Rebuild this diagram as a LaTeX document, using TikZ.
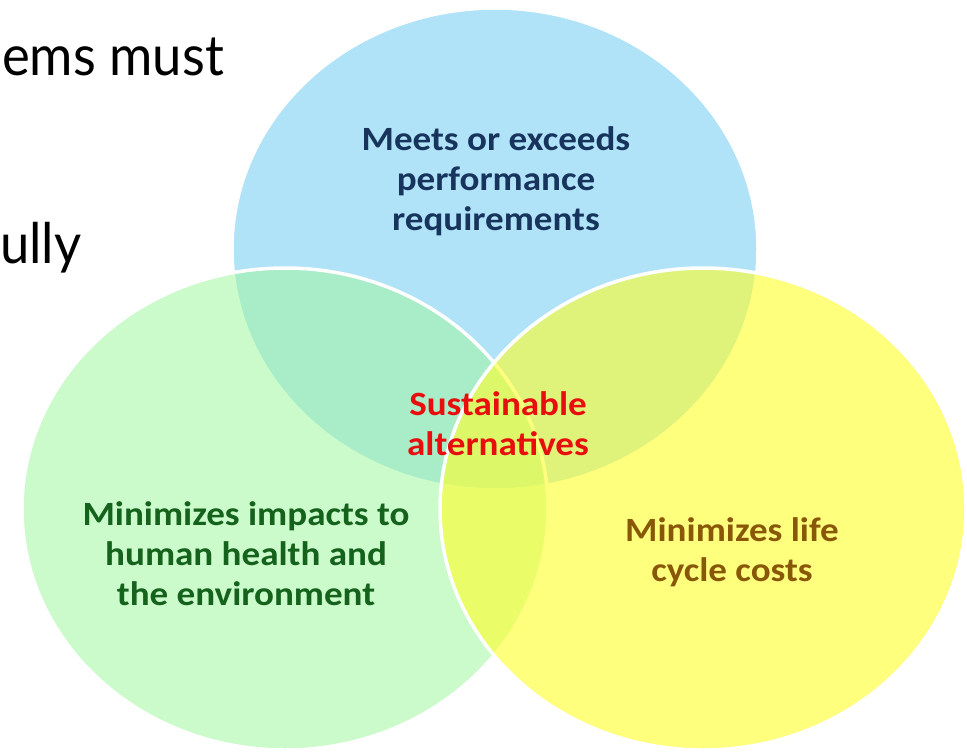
\documentclass[tikz,border=0pt]{standalone}
\usepackage{fontspec}
\setmainfont{Carlito}[FakeStretch=1.09]
\newfontfamily\slidefont{Lato}[FakeStretch=0.94]
\usetikzlibrary{shapes.geometric}

\definecolor{perfblue}{RGB}{176,226,248}
\definecolor{healthgreen}{RGB}{162,247,162}
\definecolor{costyellow}{RGB}{255,255,40}
\definecolor{perftext}{RGB}{22,52,92}
\definecolor{coretext}{RGB}{232,14,14}
\definecolor{healthtext}{RGB}{20,98,28}
\definecolor{costtext}{RGB}{136,88,8}

\begin{document}
\begin{tikzpicture}[x=1pt,y=-1pt]
  \tikzset{
    venn/.style={ellipse,draw=white,line width=3.5pt,inner sep=0pt,minimum width=526pt,minimum height=482pt},
    caption/.style={font=\fontsize{34}{40}\selectfont\bfseries,align=center},
    slidetext/.style={font=\slidefont\fontsize{56}{64}\selectfont,anchor=base west,inner sep=0pt}
  }
  \useasboundingbox[fill=white] (0,0) rectangle (967,755);

  % leftover lines of the slide text
  \node[slidetext] (line1) at (2,75) {ems must};
  \node[slidetext] (line2) at (0,263) {ully};

  % the three sets
  \node[venn,fill=perfblue] (perf) at (495,249) {};
  \node[venn,fill=healthgreen,fill opacity=0.55] (health) at (285,509) {};
  \node[venn,fill=costyellow,fill opacity=0.6] (cost) at (703,509) {};

  \node[caption,text=perftext] (perflbl) at (496,181) {Meets or exceeds\\performance\\requirements};
  \node[caption,text=healthtext] (healthlbl) at (246,554) {Minimizes impacts to\\human health and\\the environment};
  \node[caption,text=costtext] (costlbl) at (732,552) {Minimizes life\\cycle costs};
  \node[caption,text=coretext] (core) at (498,424) {Sustainable\\alternatives};
\end{tikzpicture}
\end{document}
